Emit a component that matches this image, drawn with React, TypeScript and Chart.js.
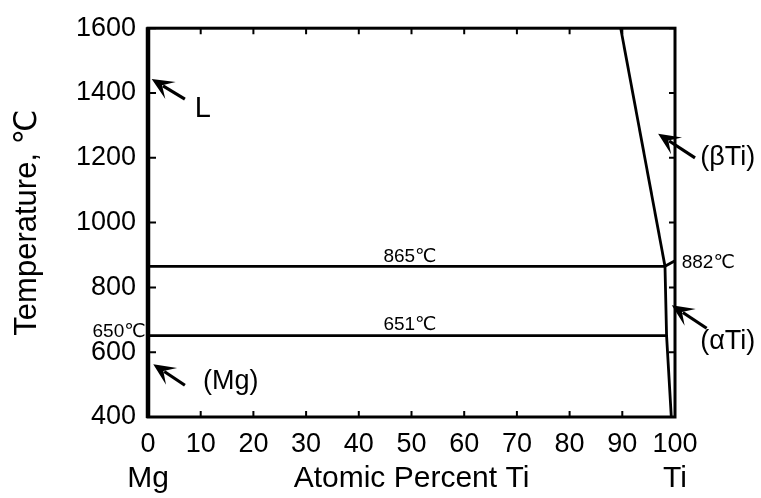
import React, { useEffect, useRef } from "react";
import { Chart, registerables } from "chart.js";

Chart.register(...registerables);

// ---- data (Atomic Percent Ti, Temperature °C) ----
const liquidusX = [89.7, 98.1];
const liquidusT = [1600, 865];
const iso865X = [0, 98.1];
const iso865T = [865, 865];
const betaTransusX = [98.1, 100];
const betaTransusT = [865, 882];
const iso651X = [0, 98.4];
const iso651T = [651, 651];
const alphaBoundaryX = [98.1, 98.4, 99.3];
const alphaBoundaryT = [865, 651, 400];

const xTicks = [0, 10, 20, 30, 40, 50, 60, 70, 80, 90, 100];
const yTicks = [400, 600, 800, 1000, 1200, 1400, 1600];

// annotation labels
const labelTexts = ["L", "(Mg)", "(βTi)", "(αTi)", "882℃", "865℃", "651℃", "650℃"];
const labelX = [10.4, 15.7, 110, 110, 106.3, 49.7, 49.7, -5.5];
const labelT = [1350, 508, 1200, 634, 877, 895, 686, 664];
const labelSize = [29, 27, 27, 27, 19, 19, 19, 19];

// arrows: tip and tail
const arrowTipX = [0.7, 1, 96.8, 99.4];
const arrowTipT = [1443, 563, 1274, 745];
const arrowTailX = [7, 7, 103.8, 106];
const arrowTailT = [1381, 498, 1200, 674];

const xEndLabels = ["Mg", "Ti"];
const xEndValues = [0, 100];

const FONT = "'Liberation Sans', 'DejaVu Sans', Arial, sans-serif";

function zip(xs: number[], ys: number[]) {
  return xs.map((x, i) => ({ x, y: ys[i] }));
}

const overlayPlugin = {
  id: "overlay",
  afterDraw(chart: any) {
    const ctx = chart.ctx as CanvasRenderingContext2D;
    const { left, right, top, bottom } = chart.chartArea;
    const xs = chart.scales.x;
    const ys = chart.scales.y;
    ctx.save();
    ctx.strokeStyle = "#000";
    ctx.fillStyle = "#000";
    // frame
    ctx.lineWidth = 3;
    ctx.strokeRect(left, top, right - left, bottom - top);
    ctx.lineWidth = 4.5;
    ctx.beginPath();
    ctx.moveTo(left, top - 1);
    ctx.lineTo(left, bottom + 1);
    ctx.stroke();
    // inward ticks
    ctx.lineWidth = 2;
    const tl = 6;
    xTicks.forEach((v) => {
      const px = xs.getPixelForValue(v);
      ctx.beginPath();
      ctx.moveTo(px, bottom);
      ctx.lineTo(px, bottom - tl);
      ctx.moveTo(px, top);
      ctx.lineTo(px, top + tl);
      ctx.stroke();
    });
    yTicks.forEach((v) => {
      const py = ys.getPixelForValue(v);
      ctx.beginPath();
      ctx.moveTo(left, py);
      ctx.lineTo(left + tl + 2, py);
      ctx.moveTo(right, py);
      ctx.lineTo(right - tl, py);
      ctx.stroke();
    });
    // arrows
    arrowTipX.forEach((_, i) => {
      const x1 = xs.getPixelForValue(arrowTailX[i]);
      const y1 = ys.getPixelForValue(arrowTailT[i]);
      const x2 = xs.getPixelForValue(arrowTipX[i]);
      const y2 = ys.getPixelForValue(arrowTipT[i]);
      const ang = Math.atan2(y2 - y1, x2 - x1);
      const hl = 22;
      const hw = 10;
      const bx = x2 - hl * Math.cos(ang);
      const by = y2 - hl * Math.sin(ang);
      ctx.lineWidth = 3.2;
      ctx.beginPath();
      ctx.moveTo(x1, y1);
      ctx.lineTo(bx + 0.4 * hl * Math.cos(ang), by + 0.4 * hl * Math.sin(ang));
      ctx.stroke();
      ctx.beginPath();
      ctx.moveTo(x2, y2);
      ctx.lineTo(bx + hw * Math.sin(ang), by - hw * Math.cos(ang));
      ctx.lineTo(bx + 0.45 * hl * Math.cos(ang), by + 0.45 * hl * Math.sin(ang));
      ctx.lineTo(bx - hw * Math.sin(ang), by + hw * Math.cos(ang));
      ctx.closePath();
      ctx.fill();
    });
    // labels
    ctx.textAlign = "center";
    ctx.textBaseline = "middle";
    labelTexts.forEach((t, i) => {
      ctx.font = `${labelSize[i]}px ${FONT}`;
      ctx.fillText(t, xs.getPixelForValue(labelX[i]), ys.getPixelForValue(labelT[i]));
    });
    // Mg / Ti end labels on the axis-title line
    ctx.font = `30px ${FONT}`;
    xEndLabels.forEach((t, i) => {
      ctx.fillText(t, xs.getPixelForValue(xEndValues[i]), 479);
    });
    ctx.restore();
  },
};

export default function App() {
  const ref = useRef<HTMLCanvasElement | null>(null);
  useEffect(() => {
    if (!ref.current) return;
    const line = (data: { x: number; y: number }[]) => ({
      data,
      showLine: true,
      borderColor: "#000",
      backgroundColor: "#000",
      borderWidth: 2.8,
      pointRadius: 0,
      tension: 0,
      clip: false as any,
    });
    const chart = new Chart(ref.current, {
      type: "scatter",
      data: {
        datasets: [
          line(zip(liquidusX, liquidusT)),
          line(zip(iso865X, iso865T)),
          line(zip(betaTransusX, betaTransusT)),
          line(zip(iso651X, iso651T)),
          line(zip(alphaBoundaryX, alphaBoundaryT)),
        ],
      },
      options: {
        animation: false,
        responsive: true,
        maintainAspectRatio: false,
        layout: { padding: { left: 0, top: 27, right: 86, bottom: 0 } },
        plugins: { legend: { display: false }, tooltip: { enabled: false } },
        scales: {
          x: {
            type: "linear",
            min: 0,
            max: 100,
            afterFit: (s: any) => {
              s.height = 81;
            },
            afterBuildTicks: (s: any) => {
              s.ticks = xTicks.map((v) => ({ value: v }));
            },
            grid: { display: false, drawTicks: false },
            border: { display: false },
            ticks: {
              color: "#000",
              font: { family: FONT, size: 27 },
              padding: 11,
              maxRotation: 0,
              autoSkip: false,
              callback: (v: any) => String(v),
            },
            title: {
              display: true,
              text: "Atomic Percent Ti",
              color: "#000",
              font: { family: FONT, size: 30 },
              padding: { top: 0, bottom: 1 },
            },
          },
          y: {
            type: "linear",
            min: 400,
            max: 1600,
            afterFit: (s: any) => {
              s.width = 148;
            },
            afterBuildTicks: (s: any) => {
              s.ticks = yTicks.map((v) => ({ value: v }));
            },
            grid: { display: false, drawTicks: false },
            border: { display: false },
            ticks: {
              color: "#000",
              font: { family: FONT, size: 27 },
              padding: 12,
              autoSkip: false,
              callback: (v: any) => String(v),
            },
            title: {
              display: true,
              text: "Temperature, ℃",
              color: "#000",
              font: { family: FONT, size: 31 },
              padding: { top: 9, bottom: 0 },
            },
          },
        },
      },
      plugins: [overlayPlugin],
    });
    return () => chart.destroy();
  }, []);
  return (
    <div style={{ position: "fixed", left: 0, top: 0, width: 761, height: 498, background: "#fff" }}>
      <canvas ref={ref} />
    </div>
  );
}
